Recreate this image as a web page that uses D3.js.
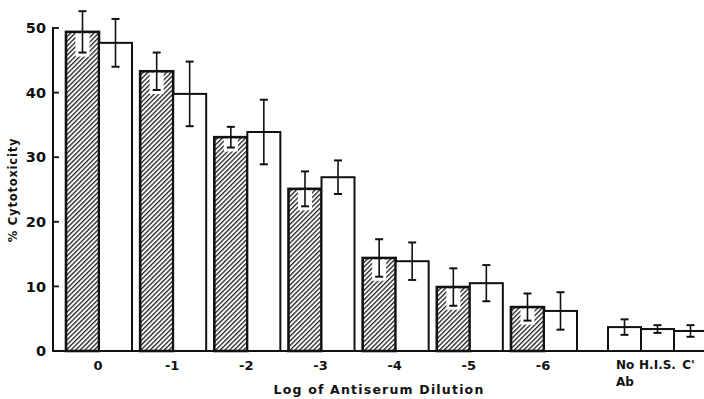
<!DOCTYPE html>
<html>
<head>
<meta charset="utf-8">
<script src="https://cdn.jsdelivr.net/npm/d3@7"></script>
<style>
  body { margin: 0; background: #fff; }
  svg { display: block; }
  text { font-family: "DejaVu Sans", sans-serif; fill: #111; }
</style>
</head>
<body>
<div class="content"></div>
<script>

// values (% cytotoxicity)
var dilutions = ["0", "-1", "-2", "-3", "-4", "-5", "-6"];
var hatchedVals = [49.4, 43.3, 33.1, 25.1, 14.4, 9.9, 6.8];
var hatchedErr = [3.2, 2.9, 1.6, 2.7, 2.9, 2.9, 2.1];
var openVals = [47.7, 39.8, 33.9, 26.9, 13.9, 10.5, 6.2];
var openErr = [3.7, 5.0, 5.0, 2.6, 2.9, 2.8, 2.9];
var controls = ["No Ab", "H.I.S.", "C'"];
var controlVals = [3.7, 3.4, 3.1];
var controlErr = [1.2, 0.6, 0.9];
var yTicks = [0, 10, 20, 30, 40, 50];

var width = 704, height = 399;

var svg = d3.select(".content").append("svg")
   .attr("width", width)
   .attr("height", height);

// diagonal hatch
var defs = svg.append("defs");
defs.append("pattern")
   .attr("id", "hatch")
   .attr("patternUnits", "userSpaceOnUse")
   .attr("width", 3.3)
   .attr("height", 3.3)
   .attr("patternTransform", "rotate(45)")
   .append("rect")
   .attr("width", 1.3)
   .attr("height", 3.3)
   .attr("fill", "#222");

var y = d3.scaleLinear().domain([0, 50]).range([351, 28]);

var x = d3.scaleBand()
   .domain(dilutions)
   .range([66, 577])
   .paddingInner(0.11)
   .paddingOuter(0);

var inner = d3.scaleBand()
   .domain(["hatched", "open"])
   .range([0, x.bandwidth()]);

var xc = d3.scaleBand()
   .domain(controls)
   .range([608, 707]);

var axisX = 53;

// y axis line + ticks
svg.append("line")
   .attr("x1", axisX).attr("x2", axisX)
   .attr("y1", y(50) - 1).attr("y2", y(0))
   .attr("stroke", "#111").attr("stroke-width", 2);

svg.selectAll(".ytick")
   .data(yTicks)
   .enter().append("line")
   .attr("x1", axisX - 1).attr("x2", axisX + 6)
   .attr("y1", function(d){ return y(d); })
   .attr("y2", function(d){ return y(d); })
   .attr("stroke", "#111").attr("stroke-width", 1.8);

svg.selectAll(".ylabel")
   .data(yTicks)
   .enter().append("text")
   .attr("x", 46)
   .attr("y", function(d){ return y(d); })
   .attr("dy", "0.36em")
   .attr("text-anchor", "end")
   .attr("font-size", "14.5px")
   .attr("font-weight", "bold")
   .text(function(d){ return d; });

svg.append("text")
   .attr("transform", "translate(17,190) rotate(-90)")
   .attr("text-anchor", "middle")
   .attr("font-size", "11.5px")
   .attr("font-weight", "bold")
   .attr("letter-spacing", "0.8px")
   .text("% Cytotoxicity");

// bars
function drawBar(x0, w, v, err, hatched) {
   svg.append("rect")
      .attr("x", x0)
      .attr("y", y(v))
      .attr("width", w)
      .attr("height", y(0) - y(v))
      .attr("fill", hatched ? "url(#hatch)" : "#fff")
      .attr("stroke", "#111")
      .attr("stroke-width", hatched ? 2.6 : 2);

   var cx = x0 + w / 2;
   if (hatched) {
      // white knock-out around the error bar inside the hatch
      svg.append("rect")
         .attr("x", cx - 7)
         .attr("y", y(v) + 1.5)
         .attr("width", 14)
         .attr("height", Math.max(0, y(v - err) + 4 - y(v) - 1.5))
         .attr("fill", "#fff");
   }
   svg.append("line")
      .attr("x1", cx).attr("x2", cx)
      .attr("y1", y(v + err)).attr("y2", y(v - err))
      .attr("stroke", "#111").attr("stroke-width", 1.6);
   [v + err, v - err].forEach(function(e){
      svg.append("line")
         .attr("x1", cx - 4).attr("x2", cx + 4)
         .attr("y1", y(e)).attr("y2", y(e))
         .attr("stroke", "#111").attr("stroke-width", 2);
   });
}

dilutions.forEach(function(d, i){
   drawBar(x(d) + inner("hatched"), inner.bandwidth(), hatchedVals[i], hatchedErr[i], true);
   drawBar(x(d) + inner("open"), inner.bandwidth(), openVals[i], openErr[i], false);
});

controls.forEach(function(c, i){
   drawBar(xc(c), xc.bandwidth(), controlVals[i], controlErr[i], false);
});

// baseline
svg.append("line")
   .attr("x1", axisX).attr("x2", width)
   .attr("y1", y(0)).attr("y2", y(0))
   .attr("stroke", "#111").attr("stroke-width", 2.2);

// x labels
svg.selectAll(".xlabel")
   .data(dilutions)
   .enter().append("text")
   .attr("x", function(d){ return x(d) + x.bandwidth() / 2 - 1; })
   .attr("y", 365)
   .attr("dy", "0.36em")
   .attr("text-anchor", "middle")
   .attr("font-size", "13px")
   .attr("font-weight", "bold")
   .text(function(d){ return d; });

var ctlLabel = svg.selectAll(".clabel")
   .data(controls)
   .enter().append("text")
   .attr("y", 365)
   .attr("font-size", "12px")
   .attr("font-weight", "bold");

ctlLabel.each(function(d){
   var parts = d.split(" ");
   var t = d3.select(this);
   parts.forEach(function(p, k){
      t.append("tspan")
         .attr("x", parts.length > 1 ? xc(d) + 8 : xc(d) + xc.bandwidth() / 2 - (d == "C'" ? 2 : 0))
         .attr("text-anchor", parts.length > 1 ? "start" : "middle")
         .attr("dy", k == 0 ? "0.36em" : "1.4em")
         .text(p);
   });
});

svg.append("text")
   .attr("x", 379)
   .attr("y", 389)
   .attr("dy", "0.36em")
   .attr("text-anchor", "middle")
   .attr("font-size", "12.5px")
   .attr("font-weight", "bold")
   .attr("letter-spacing", "1.2px")
   .text("Log of Antiserum Dilution");

</script>
</body>
</html>
